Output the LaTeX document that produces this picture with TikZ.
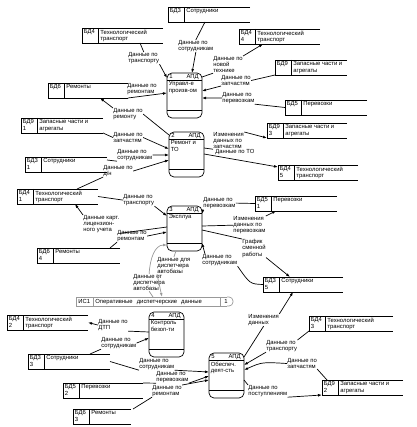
\documentclass[tikz,border=0pt]{standalone}
\usepackage{fontspec}
\setmainfont{Liberation Sans}
\usetikzlibrary{arrows.meta}

% накопитель данных: имя, позиция, ширина, номер, текст
\newcommand{\datastore}[5]{%
  \node[store, minimum width=#3pt] (#1) at #2 {};
  \draw (#1.north east) -- (#1.north west) -- (#1.south west) -- (#1.south east);
  \draw ([xshift=16pt]#1.north west) -- ([xshift=16pt]#1.south west);
  \node[txt] at ([xshift=1.5pt,yshift=-1.5pt]#1.north west) {#4};
  \node[txt] at ([xshift=18pt,yshift=-1.5pt]#1.north west) {#5};
}
% процесс: имя, позиция, номер, текст
\newcommand{\procbox}[4]{%
  \node[proc] (#1) at #2 {};
  \draw ([yshift=-7pt]#1.north west) -- ([yshift=-7pt]#1.north east);
  \draw ([yshift=8pt]#1.south west) -- ([yshift=8pt]#1.south east);
  \node[txt] at ([xshift=2pt,yshift=-1.2pt]#1.north west) {#3};
  \node[txt, anchor=north east] at ([xshift=-3pt,yshift=-1.2pt]#1.north east) {АПД};
  \node[txt] at ([xshift=1.5pt,yshift=-8.5pt]#1.north west) {#4};
}

\begin{document}
\begin{tikzpicture}[
    x=1pt, y=-1pt,
    line width=0.7pt,
    >={Latex[length=4pt,width=2.8pt]},
    txt/.style={font=\fontsize{5.9}{6.2}\selectfont, inner sep=0pt, anchor=north west, align=left},
    store/.style={minimum height=15pt, inner sep=0pt, outer sep=0pt, anchor=north west},
    proc/.style={draw, rounded corners=5pt, minimum width=35pt, minimum height=45pt,
      inner sep=0pt, outer sep=0pt, anchor=north west},
    gline/.style={draw=black!40}
    ]
    \useasboundingbox (0,0) rectangle (416,427);

    % Процессы
    \procbox{p1}{(167,73)}{1}{Управл-е\\произв-ом}
    \procbox{p2}{(169,132)}{2}{Ремонт и\\ТО}
    \procbox{p3}{(167,206)}{3}{Эксплуа}
    \procbox{p4}{(149,312)}{4}{Контроль\\безоп-ти}
    \procbox{p5}{(209,353)}{5}{Обеспеч.\\деят-сть}

    % Накопители
    \datastore{s1}{(168,7)}{82}{БД3}{Сотрудники}
    \datastore{s2}{(82,28)}{81}{БД4}{Технологический\\транспорт}
    \datastore{s3}{(48,83)}{80}{БД6}{Ремонты}
    \datastore{s4}{(239,29)}{81}{БД4\\4}{Технологический\\транспорт}
    \datastore{s5}{(275,60)}{72}{БД9}{Запасные части и\\агрегаты}
    \datastore{s6}{(285,100)}{82}{БД5}{Перевозки}
    \datastore{s7}{(21,118)}{82}{БД9\\1}{Запасные части и\\агрегаты}
    \datastore{s8}{(25,157)}{82}{БД3\\1}{Сотрудники}
    \datastore{s9}{(17,189)}{81}{БД4\\1}{Технологический\\транспорт}
    \datastore{s10}{(37,248)}{83}{БД6\\4}{Ремонты}
    \datastore{s11}{(267,123)}{80}{БД9\\3}{Запасные части и\\агрегаты}
    \datastore{s12}{(278,165)}{80}{БД4\\5}{Технологический\\транспорт}
    \datastore{s13}{(255,196)}{82}{БД5\\1}{Перевозки}
    \datastore{s14}{(263,277)}{80}{БД3\\5}{Сотрудники}
    \datastore{s15}{(7,315)}{81}{БД4\\2}{Технологический\\транспорт}
    \datastore{s16}{(28,354)}{82}{БД3\\3}{Сотрудники}
    \datastore{s17}{(63,383)}{80}{БД5\\2}{Перевозки}
    \datastore{s18}{(73,409)}{58}{БД6\\3}{Ремонты}
    \datastore{s19}{(309,316)}{84}{БД4\\3}{Технологический\\транспорт}
    \datastore{s20}{(322,380)}{81}{БД9\\2}{Запасные части и\\агрегаты}

    % Внешняя ссылка
    \node[store, minimum width=157pt, minimum height=9pt] (i1) at (76,297) {};
    \draw[gline] ([xshift=-6pt]i1.north east) -- (i1.north west) -- (i1.south west) -- ([xshift=-6pt]i1.south east);
    \draw[gline, rounded corners=4pt] ([xshift=-6pt]i1.north east) -- (i1.north east) -- (i1.south east) -- ([xshift=-6pt]i1.south east);
    \draw[gline] ([xshift=17pt]i1.north west) -- ([xshift=17pt]i1.south west);
    \draw[gline] ([xshift=144pt]i1.north west) -- ([xshift=144pt]i1.south west);
    \node[txt] (i1id) at (78,299) {ИС1};
    \node[txt] (i1txt) at (95,299) {Оперативные\hspace{4pt}диспетчерские\hspace{4pt}данные};
    \node[txt] (i1num) at (224,299) {1};

    % Подписи потоков
    \node[txt] (l1) at (178,40) {Данные по\\сотрудникам};
    \node[txt] (l2) at (128,52) {Данные по\\транспорту};
    \node[txt] (l3) at (127,83) {Данные по\\ремонтам};
    \node[txt] (l4) at (113,108) {Данные по\\ремонту};
    \node[txt] (l5) at (213,56) {Данные по\\новой\\технике};
    \node[txt] (l6) at (221,75) {Данные по\\запчастям};
    \node[txt] (l7) at (222,92) {Данные по\\перевозкам};
    \node[txt] (l8) at (113,132) {Данные по\\запчастям};
    \node[txt] (l9) at (117,149) {Данные по\\сотрудникам};
    \node[txt] (l10) at (103,165) {Данные по\\д/н};
    \node[txt] (l11) at (213,132) {Изменения\\данных по\\запчастям};
    \node[txt] (l12) at (215,149) {Данные по ТО};
    \node[txt] (l13) at (123,194) {Данные по\\транспорту};
    \node[txt] (l14) at (83,215) {Данные карт.\\лицензион-\\ного учета};
    \node[txt] (l15) at (117,230) {Данные по\\ремонтам};
    \node[txt] (l16) at (157,257) {Данные для\\диспетчера\\автобазы};
    \node[txt] (l17) at (133,274) {Данные от\\диспетчера\\автобазы};
    \node[txt] (l18) at (203,197) {Данные по\\перевозкам};
    \node[txt] (l19) at (233,216) {Изменения\\данных по\\перевозкам};
    \node[txt] (l20) at (242,239) {График\\сменной\\работы};
    \node[txt] (l21) at (202,254) {Данные по\\сотрудникам};
    \node[txt] (l22) at (98,319) {Данные по\\ДТП};
    \node[txt] (l23) at (101,337) {Данные по\\сотрудникам};
    \node[txt] (l24) at (139,358) {Данные по\\сотрудникам};
    \node[txt] (l25) at (156,371) {Данные по\\перевозкам};
    \node[txt] (l26) at (152,385) {Данные по\\ремонтам};
    \node[txt] (l27) at (248,314) {Изменения\\данных};
    \node[txt] (l28) at (266,340) {Данные по\\транспорту};
    \node[txt] (l29) at (287,358) {Данные по\\запчастям};
    \node[txt] (l30) at (248,385) {Данные по\\поступлениям};

    % Потоки процесса 1
    \draw ([xshift=37pt]s1.south west) -- (l1.north);
    \draw[->] (l1.south) -- ([xshift=25pt]p1.north west);
    \draw ([xshift=58pt]s2.south west) -- (l2.north);
    \draw[->] (l2.south east) -- ([yshift=-5pt]p1.north west);
    \draw[->] (s3.south east) -- ([yshift=-20pt]p1.north west);
    \draw ([yshift=-4pt]p1.north east) -- (l5.south west);
    \draw[->] (l5.north east) -- ([xshift=24pt]s4.south west);
    \draw (s5.south west) -- (l6.east);
    \draw[->] (l6.south west) -- ([yshift=-18pt]p1.north east);
    \draw (s6.west) -- (l7.south east);
    \draw[->] (l7.west) -- ([yshift=-25pt]p1.north east);

    % Потоки процесса 2
    \draw ([yshift=-3pt]p2.north west) -- (l4.east);
    \draw[->] (l4.north west) -- ([xshift=52pt]s3.south west);
    \draw (s7.south east) -- (l8.west);
    \draw[->] (l8.east) -- ([yshift=-17pt]p2.north west);
    \draw ([yshift=-3pt]s8.north east) -- (l9.south west);
    \draw[->] (l9.east) -- ([yshift=-23pt]p2.north west);
    \draw ([xshift=60pt]s9.north west) -- (l10.south west);
    \draw[->] (l10.east) -- ([yshift=-28pt]p2.north west);
    \draw ([yshift=-16pt]p2.north east) -- (l11.south west);
    \draw[->] (l11.north east) -- (s11.south west);
    \draw[->] ([yshift=-22pt]p2.north east) -- ([yshift=-2pt]s12.north west);

    % Потоки процесса 3
    \draw (s9.east) -- (l13.west);
    \draw[->] (l13.south east) -- ([yshift=-10pt]p3.north west);
    \draw ([yshift=-21pt]p3.north west) -- (l14.south east);
    \draw[->] (l14.north west) -- ([xshift=58pt]s9.south west);
    \draw ([xshift=73pt]s10.north west) -- (l15.south west);
    \draw[->] (l15.east) -- ([yshift=-26pt]p3.north west);
    \draw[gline] ([xshift=9pt]p3.south west) -- (l16.north);
    \draw[gline, ->] (l16.south west) -- ([xshift=86pt]i1.north west);
    \draw[gline] ([xshift=77pt]i1.north west) -- (l17.south);
    \draw[gline, ->] (l17.north) .. controls (150,258) and (155,245) .. ([yshift=6pt]p3.south west);
    \draw (s13.west) -- (l18.east);
    \draw[->] (l18.south west) -- ([yshift=-8pt]p3.north east);
    \draw ([yshift=-20pt]p3.north east) -- (l19.west);
    \draw[->] (l19.north east) -- ([xshift=21pt]s13.south west);
    \draw ([yshift=-24pt]p3.north east) -- (l20.north west);
    \draw[->] (l20.south east) -- ([xshift=27pt]s14.north west);
    \draw (s14.west) .. controls (250,284) .. (l21.south east);
    \draw[->] ([xshift=3pt]l21.north west) -- ([yshift=-37pt]p3.north east);

    % Потоки процесса 4
    \draw ([yshift=-20pt]p4.north west) -- (l22.south east);
    \draw[->] (l22.west) -- (s15.east);
    \draw ([xshift=62pt]s16.north west) -- (l23.south west);
    \draw[->] (l23.east) -- ([yshift=-26pt]p4.north west);

    % Потоки процесса 5
    \draw (s16.east) -- (l24.south west);
    \draw[->] (l24.south east) -- ([yshift=-19pt]p5.north west);
    \draw (s17.north east) -- (l25.south west);
    \draw[->] (l25.south east) -- ([yshift=-23pt]p5.north west);
    \draw ([xshift=60pt]s18.north west) -- (l26.south west);
    \draw[->] (l26.north east) -- ([yshift=-27pt]p5.north west);
    \draw ([yshift=-4pt]p5.north east) -- (l27.south);
    \draw[->] (l27.north east) -- ([xshift=30pt]s14.south west);
    \draw (s19.south west) -- (l28.north east);
    \draw[->] (l28.south west) -- ([yshift=-12pt]p5.north east);
    \draw ([xshift=5pt]s20.north west) -- (l29.south east);
    \draw[->] (l29.west) .. controls (262,362) .. ([yshift=-17pt]p5.north east);
    \draw ([yshift=-27pt]p5.north east) -- (l30.north west);
    \draw[->] (l30.south east) -- (s20.south west);

\end{tikzpicture}
\end{document}
